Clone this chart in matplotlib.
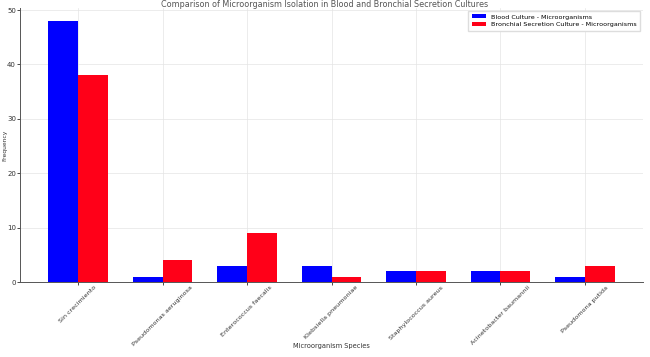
import numpy as np
import matplotlib.pyplot as plt

species = ["Sin crecimiento", "Pseudomonas aeruginosa", "Enterococcus faecalis",
           "Klebsiella pneumoniae", "Staphylococcus aureus", "Acinetobacter baumannii",
           "Pseudomona putida"]
blood = [48, 1, 3, 3, 2, 2, 1]
bronchial = [38, 4, 9, 1, 2, 2, 3]

x = np.arange(len(species))
width = 0.35

fig = plt.figure(figsize=(6.5, 3.57), dpi=100)
ax = fig.add_axes([0.031, 0.21, 0.958, 0.768])

ax.bar(x - width / 2, blood, width, color="#0000ff", label="Blood Culture - Microorganisms")
ax.bar(x + width / 2, bronchial, width, color="#ff0018", label="Bronchial Secretion Culture - Microorganisms")

ax.set_xticks(x)
ax.set_xticklabels(species, rotation=45, fontsize=4.6, color="#333333")
ax.tick_params(axis="y", labelsize=5, length=2, width=0.5, pad=1, labelcolor="#333333")
ax.tick_params(axis="x", length=2, width=0.5, pad=0)
ax.set_yticks([0, 10, 20, 30, 40, 50])
ax.set_xlabel("Microorganism Species", fontsize=4.8, color="#333333")
ax.xaxis.set_label_coords(0.5, -0.222)
ax.set_ylabel("Frequency", fontsize=4.3, color="#333333")
ax.yaxis.set_label_coords(-0.02, 0.5)
fig.text(0.5, 0.999, "Comparison of Microorganism Isolation in Blood and Bronchial Secretion Cultures",
         fontsize=5.8, ha="center", va="top", color="#555555")

ax.grid(True, color="#e4e4e4", linewidth=0.5)
ax.set_axisbelow(True)
for s in ["top", "right"]:
    ax.spines[s].set_visible(False)
for s in ["left", "bottom"]:
    ax.spines[s].set_linewidth(0.7)
    ax.spines[s].set_color("#555555")

ax.legend(loc="upper right", fontsize=4.6, handlelength=2.2, handleheight=0.6,
          borderpad=0.5, labelspacing=0.4, framealpha=1, edgecolor="#dddddd",
          fancybox=False)

fig.savefig("out.png", dpi=100)
